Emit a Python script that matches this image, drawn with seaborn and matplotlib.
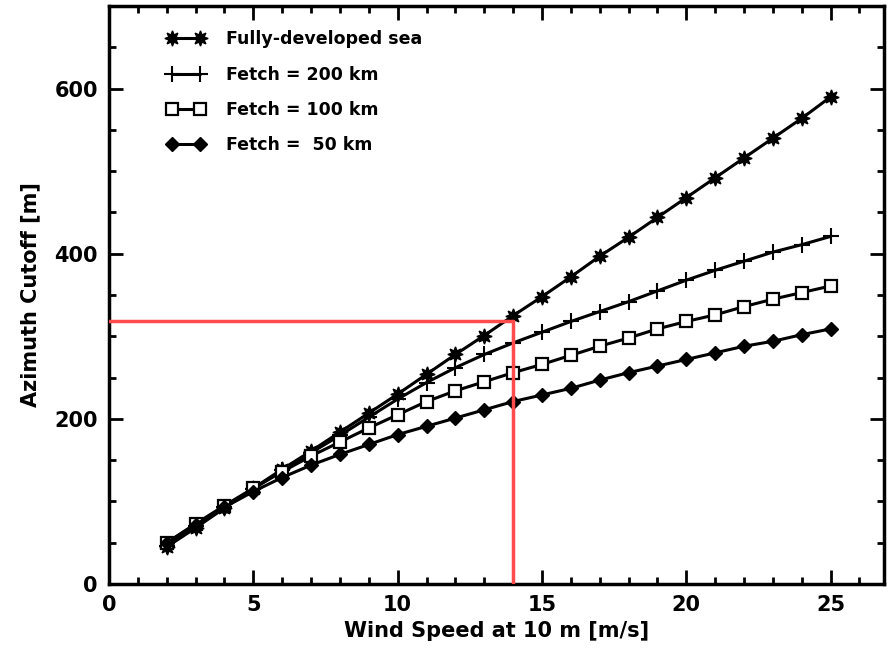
import matplotlib
matplotlib.use("Agg")
import matplotlib.pyplot as plt
import seaborn as sns
import numpy as np
import pandas as pd
from matplotlib.ticker import MultipleLocator

wind_speed = list(range(2, 26))
fully_developed = [45, 68, 92, 116, 139, 161, 184, 207, 230, 254, 278, 301,
                   325, 348, 372, 397, 420, 444, 468, 492, 516, 540, 564, 590]
fetch_200 = [46, 70, 93, 115, 138, 159, 180, 202, 224, 244, 262, 278,
             292, 305, 318, 330, 342, 355, 368, 380, 391, 402, 411, 421]
fetch_100 = [50, 73, 95, 116, 136, 155, 172, 189, 205, 221, 234, 245,
             256, 266, 277, 288, 298, 309, 318, 326, 336, 345, 353, 361]
fetch_50 = [50, 72, 93, 112, 129, 144, 157, 169, 181, 191, 201, 211,
            221, 229, 237, 247, 256, 264, 272, 280, 288, 294, 302, 309]
series_labels = ["Fully-developed sea", "Fetch = 200 km", "Fetch = 100 km", "Fetch =  50 km"]
target_speed = 14
target_cutoff = 318

sns.set_theme(style="ticks")
plt.rcParams['font.family'] = ['DejaVu Sans']
plt.rcParams['text.color'] = 'black'
plt.rcParams['axes.labelcolor'] = 'black'
plt.rcParams['xtick.color'] = 'black'
plt.rcParams['ytick.color'] = 'black'

fig = plt.figure(figsize=(8.95, 6.62), dpi=100)
ax = fig.add_axes([0.1218, 0.1178, 0.8659, 0.873])

styles = [
    dict(marker=(8, 1, 0), markersize=11, markerfacecolor='black', markeredgecolor='black', markeredgewidth=1),
    dict(marker='+', markersize=12, markeredgecolor='black', markeredgewidth=1.5),
    dict(marker='s', markersize=8.5, markerfacecolor='white', markeredgecolor='black', markeredgewidth=1.6),
    dict(marker='D', markersize=7, markerfacecolor='black', markeredgecolor='black', markeredgewidth=1),
]
data = [fully_developed, fetch_200, fetch_100, fetch_50]
for vals, lab, st in zip(data, series_labels, styles):
    sns.lineplot(x=wind_speed, y=vals, ax=ax, color='black', linewidth=2.2,
                 label=lab, **st)

red = '#ff4b4b'
ax.plot([0, target_speed], [target_cutoff, target_cutoff], color=red, linewidth=2.5, zorder=5)
ax.plot([target_speed, target_speed], [0, target_cutoff], color=red, linewidth=2.5, zorder=5)

ax.set_xlim(0, 26.85)
ax.set_ylim(0, 700)
ax.xaxis.set_major_locator(MultipleLocator(5))
ax.xaxis.set_minor_locator(MultipleLocator(1))
ax.yaxis.set_major_locator(MultipleLocator(200))
ax.yaxis.set_minor_locator(MultipleLocator(50))
ax.tick_params(which='both', direction='in', top=True, right=True, width=2,
               colors='black', labelcolor='black')
ax.tick_params(which='major', length=10, labelsize=15, pad=8)
ax.tick_params(which='minor', length=5)
for lbl in ax.get_xticklabels() + ax.get_yticklabels():
    lbl.set_fontweight('bold')
    lbl.set_color('black')
for sp in ax.spines.values():
    sp.set_linewidth(2.5)
    sp.set_color('black')

ax.set_xlabel("Wind Speed at 10 m [m/s]", fontsize=15, fontweight='bold', labelpad=4, color='black')
ax.set_ylabel("Azimuth Cutoff [m]", fontsize=15, fontweight='bold', labelpad=10, color='black')

leg = ax.legend(loc='upper left', bbox_to_anchor=(0.055, 0.985), frameon=False,
                numpoints=2, handlelength=2.2, fontsize=12.5, labelspacing=1.0,
                handletextpad=1.2)
for t in leg.get_texts():
    t.set_fontweight('bold')
    t.set_color('black')

fig.savefig("out.png", dpi=100)
